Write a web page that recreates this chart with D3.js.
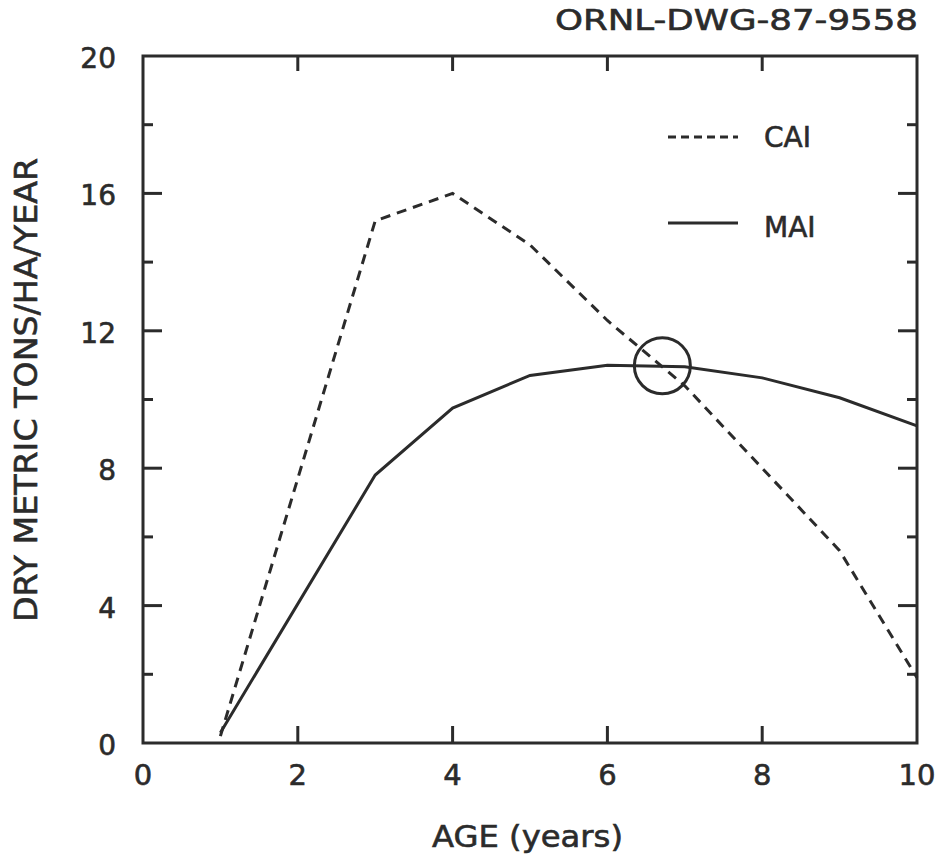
<!DOCTYPE html>
<html><head><meta charset="utf-8">
<script src="https://cdn.jsdelivr.net/npm/d3@7"></script>
<style>body{margin:0;background:#fff}svg{display:block}svg text{stroke:#2b2b2b;stroke-width:0.6px}</style>
</head><body>
<script>
const ages = [1,3,4,5,6,7,8,9,10];
const caiValues = [0.2,15.2,16.0,14.5,12.3,10.4,8.0,5.6,1.9];
const maiValues = [0.3,7.8,9.75,10.7,11.0,10.95,10.63,10.05,9.23];
const xTicks = [0,2,4,6,8,10];
const yTicks = [0,4,8,12,16,20];
const yMinorTicks = [2,6,10,14,18];
const marker = {x:6.71, y:10.98};
const seriesNames = ["CAI","MAI"];
const drawingId = "ORNL-DWG-87-9558";

const W=948,H=857;
const L=143,R=917,T=56,B=743;
const ink="#2b2b2b";
const font="'DejaVu Sans', 'Liberation Sans', Arial, sans-serif";
const svg=d3.select("body").append("svg").attr("width",W).attr("height",H);
const x=d3.scaleLinear().domain([0,10]).range([L,R]);
const y=d3.scaleLinear().domain([0,20]).range([B,T]);

// frame
svg.append("rect").attr("x",L).attr("y",T).attr("width",R-L).attr("height",B-T)
  .attr("fill","none").attr("stroke",ink).attr("stroke-width",3);

// ticks
const tk=svg.append("g").attr("stroke",ink).attr("stroke-width",3);
xTicks.slice(1,-1).forEach(v=>{
  tk.append("line").attr("x1",x(v)).attr("x2",x(v)).attr("y1",B).attr("y2",B-17);
  tk.append("line").attr("x1",x(v)).attr("x2",x(v)).attr("y1",T).attr("y2",T+15);
});
yTicks.slice(1,-1).forEach(v=>{
  tk.append("line").attr("x1",L).attr("x2",L+19).attr("y1",y(v)).attr("y2",y(v));
  tk.append("line").attr("x1",R).attr("x2",R-19).attr("y1",y(v)).attr("y2",y(v));
});
yMinorTicks.forEach(v=>{
  tk.append("line").attr("x1",L).attr("x2",L+10).attr("y1",y(v)).attr("y2",y(v));
  tk.append("line").attr("x1",R).attr("x2",R-10).attr("y1",y(v)).attr("y2",y(v));
});

// tick labels
svg.append("g").selectAll("text").data(xTicks).join("text")
  .attr("x",d=>x(d)).attr("y",785).attr("text-anchor","middle")
  .attr("font-family",font).attr("font-size",29).attr("fill",ink).text(d=>d);
svg.append("g").selectAll("text").data(yTicks).join("text")
  .attr("x",L-27).attr("y",d=>y(d)+12).attr("text-anchor","end")
  .attr("font-family",font).attr("font-size",28).attr("fill",ink).text(d=>d);

// axis titles
svg.append("text").attr("x",432).attr("y",847)
  .attr("font-family",font).attr("font-size",31).attr("fill",ink)
  .attr("textLength",191).attr("lengthAdjust","spacingAndGlyphs").text("AGE (years)");
svg.append("text").attr("transform","translate(37,622) rotate(-90)")
  .attr("font-family",font).attr("font-size",32).attr("fill",ink)
  .attr("textLength",464).attr("lengthAdjust","spacingAndGlyphs").text("DRY METRIC TONS/HA/YEAR");
svg.append("text").attr("x",555).attr("y",30)
  .attr("font-family",font).attr("font-size",28).attr("fill",ink)
  .attr("textLength",363).attr("lengthAdjust","spacingAndGlyphs").text(drawingId);

// lines
const line=d3.line().x(d=>x(d[0])).y(d=>y(d[1]));
svg.append("path").datum(ages.map((a,i)=>[a,caiValues[i]])).attr("d",line)
  .attr("fill","none").attr("stroke",ink).attr("stroke-width",3).attr("stroke-dasharray","10,7");
svg.append("path").datum(ages.map((a,i)=>[a,maiValues[i]])).attr("d",line)
  .attr("fill","none").attr("stroke",ink).attr("stroke-width",3);

// circle marker
svg.append("circle").attr("cx",x(marker.x)).attr("cy",y(marker.y)).attr("r",28)
  .attr("fill","none").attr("stroke",ink).attr("stroke-width",3);

// legend
const lg=[{n:seriesNames[0],y:137,dash:"8,5",base:147},{n:seriesNames[1],y:223,dash:null,base:237}];
lg.forEach(d=>{
  svg.append("line").attr("x1",668).attr("x2",738).attr("y1",d.y).attr("y2",d.y)
    .attr("stroke",ink).attr("stroke-width",3).attr("stroke-dasharray",d.dash);
  svg.append("text").attr("x",764).attr("y",d.base).attr("font-family",font)
    .attr("font-size",28).attr("fill",ink).text(d.n);
});
</script>
</body></html>
